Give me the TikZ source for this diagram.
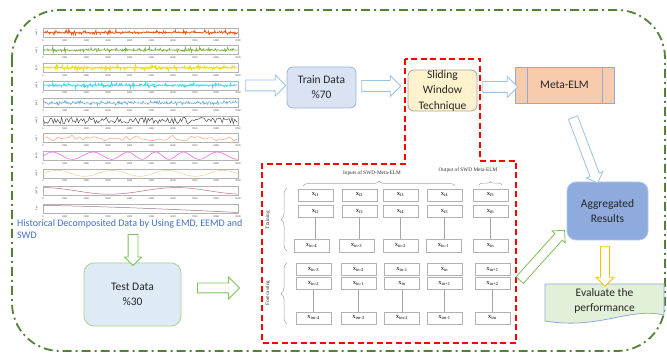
\documentclass[tikz,border=0pt]{standalone}
\usepackage{fontspec}
\setmainfont{Carlito}
\newfontfamily\tabfont{Liberation Serif}
\usetikzlibrary{shapes.arrows,decorations.pathreplacing,calc}
\definecolor{bordergreen}{HTML}{548235}
\definecolor{histblue}{HTML}{4472C4}
\definecolor{lblue}{HTML}{9DC3E6}
\definecolor{lgreen}{HTML}{7DC15A}
\definecolor{ayellow}{HTML}{FFC000}
\definecolor{trainfill}{HTML}{DAE3F3}
\definecolor{trainborder}{HTML}{9CB3D3}
\definecolor{slidefill}{HTML}{FFF2CC}
\definecolor{metafill}{HTML}{F8CBAD}
\definecolor{metaborder}{HTML}{8FAADC}
\definecolor{aggfill}{HTML}{8FAADC}
\definecolor{aggborder}{HTML}{B4C7E7}
\definecolor{evalfill}{HTML}{E2F0D9}
\definecolor{testfill}{HTML}{DEEBF7}
\definecolor{testborder}{HTML}{A9D18E}
\definecolor{txt}{HTML}{262626}
\definecolor{imfa}{HTML}{E25B1C}
\definecolor{imfb}{HTML}{7CB342}
\definecolor{imfc}{HTML}{EEE000}
\definecolor{imfd}{HTML}{33E3F0}
\definecolor{imfe}{HTML}{5DADE2}
\definecolor{imff}{HTML}{505050}
\definecolor{imfg}{HTML}{F5A27A}
\definecolor{imfh}{HTML}{EE55EE}
\definecolor{imfi}{HTML}{F0D090}
\definecolor{imfj}{HTML}{C06A8A}
\definecolor{imfk}{HTML}{A0708A}
\tikzset{
  mainbox/.style={align=center, text=txt, font=\fontsize{11.5}{15}\selectfont, inner sep=0pt, line width=0.8pt},
  cell/.style={draw=gray!60, line width=0.6pt, minimum width=35pt, minimum height=12pt, inner sep=0pt, fill=white, font=\tabfont\fontsize{6.5}{7}\selectfont},
  cellline/.style={draw=gray!70, line width=0.6pt},
  tabtext/.style={font=\tabfont\fontsize{5.3}{6}\selectfont, text=black!80, inner sep=0pt},
  tbrace/.style={decorate, decoration={brace, amplitude=5pt}, draw=gray!70, line width=0.5pt},
  barrow/.style={single arrow, draw=#1, fill=white, line width=0.8pt, inner xsep=0pt},
  sig/.style={line width=0.5pt},
  tick/.style={font=\fontsize{2.6}{3}\selectfont, inner sep=0pt, text=black!70},
}
\begin{document}
\begin{tikzpicture}[x=1pt,y=-1pt]
\useasboundingbox (0,0) rectangle (667,355);
\fill[white] (0,0) rectangle (667,355);

% outer green dash-dot frame
\draw[bordergreen, line width=1.8pt, dash pattern=on 9pt off 4pt on 2pt off 4pt, rounded corners=48pt] (12,10) rectangle (665,351);

% IMF panel frames, ticks, labels
\pgfmathsetseed{7}
\foreach \k/\lab in {0/IMF 1,1/IMF 2,2/IMF 3,3/IMF 4,4/IMF 5,5/IMF 6,6/IMF 7,7/IMF 8,8/IMF 9,9/IMF 10,10/Res}{
  \pgfmathsetmacro\t{28+17.6*\k}
  \draw[gray!60, line width=0.4pt] (43,\t) rectangle (238,{\t+9});
  \node[tick, rotate=90] (ylab\k) at (36.5,{\t+4.5}) {\lab};
  \foreach \j in {0,...,9}{
    \pgfmathtruncatemacro\v{\j*1000}
    \node[tick] (tk\k-\j) at ({43+\j*21.67},{\t+12.3}) {\v};
  }
}
% signals
\draw[sig, imfa, line width=0.7pt] plot[domain=43.5:237.5, samples=360] (\x,{32.5+4.2*rand*rand*rand});
\draw[sig, imfb, line width=0.7pt] plot[domain=43.5:237.5, samples=360] (\x,{50.1+4*rand*rand*rand});
\draw[sig, imfc, line width=0.9pt] plot[domain=43.5:237.5, samples=360] (\x,{67.7+4*rand*rand*rand});
\draw[sig, imfd, line width=0.8pt] plot[domain=43.5:237.5, samples=360] (\x,{85.3+4*rand*rand*rand});
\draw[sig, imfe] plot[domain=43.5:237.5, samples=300] (\x,{102.9+2.8*rand*rand});
\draw[sig, imff] plot[domain=43.5:237.5, samples=140] (\x,{120.5+3.3*rand});
\draw[sig, imfg] plot[smooth, domain=43.5:237.5, samples=55] (\x,{138.1+2.8*rand});
\draw[sig, imfh] plot[domain=43.5:237.5, samples=200] (\x,{155.7+3.6*sin(\x*11+60*sin(\x*2.3))});
\draw[sig, imfi] plot[domain=43.5:237.5, samples=150] (\x,{173.3-3*sin((\x-43)*6.5)});
\draw[sig, imfj] plot[domain=43.5:237.5, samples=100] (\x,{190.9-3.3*cos((\x-43)*2.7)});
\draw[sig, imfk] plot[domain=43.5:237.5, samples=60] (\x,{205.5+7*((\x-43)/195)^1.4});

% historical text
\node[anchor=north west, align=left, text=histblue, font=\fontsize{10}{12}\selectfont, inner sep=0pt] (hist) at (17,219) {Historical Decomposited Data by Using EMD, EEMD and\\SWD};

% red dashed region
\draw[red, line width=1.6pt, dash pattern=on 6pt off 3.5pt] (405,59) -- (405,164) -- (262,164) -- (262,343) -- (516,343) -- (516,161) -- (480,161) -- (480,59) -- cycle;

% main boxes
\node[mainbox, draw=trainborder, fill=trainfill, rounded corners=6pt, minimum width=69pt, minimum height=41pt] (train) at (321.5,87.5) {Train Data\\\%70};
\node[mainbox, draw=gray!70, fill=slidefill, rounded corners=6pt, minimum width=69pt, minimum height=41pt, font=\fontsize{11.5}{15.5}\selectfont] (slide) at (442.5,90.5) {Sliding\\Window\\Technique};
\node[mainbox, draw=metaborder, fill=metafill, minimum width=99pt, minimum height=36pt] (meta) at (564.5,85) {Meta-ELM};
\draw[metaborder, line width=0.8pt] ([xshift=13pt]meta.north west) -- ([xshift=13pt]meta.south west);
\draw[metaborder, line width=0.8pt] ([xshift=-12pt]meta.north east) -- ([xshift=-12pt]meta.south east);
\node[mainbox, draw=aggborder, fill=aggfill, rounded corners=9pt, minimum width=81pt, minimum height=58pt] (agg) at (607.5,211) {Aggregated\\Results};
\filldraw[fill=evalfill, draw=metaborder, line width=0.8pt] (545,284) -- (664,284) -- (664,315) .. controls (628,307) and (600,330) .. (545,321) -- cycle;
\node[mainbox] (eval) at (604.5,300.5) {Evaluate the\\performance};
\node[mainbox, draw=testborder, fill=testfill, rounded corners=10pt, minimum width=97pt, minimum height=63pt] (test) at (132.5,294.5) {Test Data\\\%30};

% block arrows
\node[barrow=lblue, inner ysep=5pt, single arrow head extend=5pt, minimum height=40pt] (a1) at (263,85.5) {};
\node[barrow=lblue, inner ysep=5pt, single arrow head extend=5pt, minimum height=39pt] (a2) at (378.5,86) {};
\node[barrow=lblue, inner ysep=5pt, single arrow head extend=5pt, minimum height=35pt] (a3) at (497.5,87) {};
\node[barrow=lblue, inner ysep=4.5pt, single arrow head extend=4pt, minimum height=70pt, rotate=-69.3] (a4) at (584.5,148) {};
\node[barrow=ayellow, inner ysep=4pt, single arrow head extend=4.5pt, minimum height=40pt, rotate=-90] (a5) at (605,264) {};
\node[barrow=lgreen, inner ysep=4.5pt, single arrow head extend=4pt, minimum height=67pt, rotate=48] (a6) at (540.5,257) {};
\node[barrow=lgreen, inner ysep=4.5pt, single arrow head extend=3.5pt, minimum height=31pt, rotate=-90] (a7) at (133,247.5) {};
\node[barrow=lgreen, inner ysep=4.5pt, single arrow head extend=6pt, minimum height=42pt] (a8) at (216,288) {};

% table headers and braces
\node[tabtext] (inhead) at (372,173) {Inputs of SWD-Meta-ELM};
\node[tabtext] (outhead) at (468,170) {Output of SWD Meta-ELM};
\coordinate (ib1) at (303,186); \coordinate (ib2) at (455,186);
\draw[tbrace] (ib1) -- (ib2);
\coordinate (ob1) at (479,185); \coordinate (ob2) at (502,185);
\draw[tbrace, decoration={brace, amplitude=3.5pt}] (ob1) -- (ob2);
\coordinate (trb1) at (287,251); \coordinate (trb2) at (287,188);
\draw[tbrace, decoration={brace, amplitude=6pt}] (trb1) -- (trb2);
\coordinate (fcb1) at (287,324); \coordinate (fcb2) at (287,263);
\draw[tbrace, decoration={brace, amplitude=6pt}] (fcb1) -- (fcb2);
\node[tabtext, rotate=90] (trlab) at (268,220) {Training};
\node[tabtext, rotate=90] (fclab) at (268,293) {Forecasting};

% training cells
\foreach \n/\xc/\xd/\la/\lb/\lc in {1/315.5/311.5/i1/i2/in-4, 2/359.5/356.5/i2/i3/in-3, 3/400.5/400.5/i3/i4/in-2, 4/444.5/443.5/i4/i5/in-1, 5/490.5/490.5/i5/i6/in}{
  \node[cell] (ta\n) at (\xc,195) {x\textsubscript{\la}};
  \node[cell] (tb\n) at (\xc,211.5) {x\textsubscript{\lb}};
  \node[cell, minimum height=13pt] (tc\n) at (\xd,245.5) {x\textsubscript{\lc}};
  \draw[cellline] (tb\n.south) -- (tb\n.south |- tc\n.north);
}
% forecasting cells
\foreach \n/\xc/\la/\lb/\lc in {1/313.5/in-3/in-2/im-4, 2/358.5/in-2/in-1/im-3, 3/402/in-1/in/im-2, 4/444.5/in/in+1/im-1, 5/492.5/in+1/in+2/im}{
  \node[cell] (fa\n) at (\xc,269.5) {x\textsubscript{\la}};
  \node[cell] (fb\n) at (\xc,283.5) {x\textsubscript{\lb}};
  \node[cell] (fc\n) at (\xc,318) {x\textsubscript{\lc}};
  \draw[cellline] (fb\n.south) -- (fc\n.north);
}
\end{tikzpicture}
\end{document}
